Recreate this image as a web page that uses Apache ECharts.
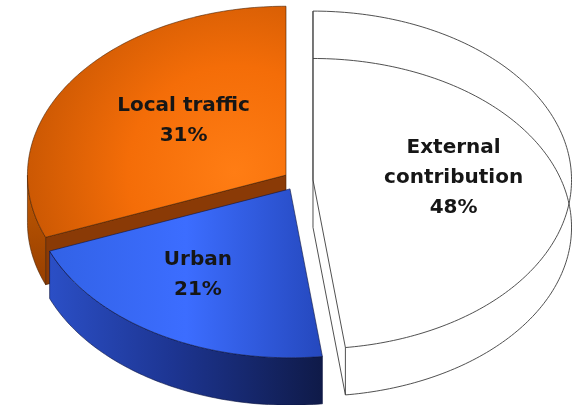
<!DOCTYPE html>
<html>
<head>
<meta charset="utf-8">
<script src="https://cdn.jsdelivr.net/npm/echarts@6/dist/echarts.min.js"></script>
<style>
  html, body { margin: 0; padding: 0; background: #ffffff; }
  #chart { width: 572px; height: 405px; }
</style>
</head>
<body>
<div id="chart"></div>
<script>
// Source shares, in drawing order starting at 12 o'clock and going clockwise
const categories = ['External contribution', 'Urban', 'Local traffic'];
const shares = [48, 21, 31];
const labelNames = ['External\ncontribution', 'Urban', 'Local traffic'];

// Look of each slice (offsets are fractions of the chart size)
const sliceLook = [
  { // External contribution: hollow wire-frame slice pulled to the right
    shift: [0.0437, -0.005], order: 1, wire: true,
    edge: '#3c3c3c', label: [0.793, 0.44]
  },
  { // Urban
    shift: [0.0035, 0.017], order: 2,
    top: () => new echarts.graphic.LinearGradient(0, 0, 1, 0, [
      { offset: 0, color: '#3262e6' },
      { offset: 0.5, color: '#3c6dff' },
      { offset: 1, color: '#2548bd' }
    ]),
    wall: () => new echarts.graphic.LinearGradient(0, 0, 1, 0, [
      { offset: 0, color: '#2b4fc6' },
      { offset: 0.45, color: '#1d3592' },
      { offset: 1, color: '#0f1a48' }
    ]),
    cut: '#1c2f80', edge: '#0b1440', label: [0.346, 0.679]
  },
  { // Local traffic
    shift: [-0.0035, -0.017], order: 0,
    top: () => new echarts.graphic.RadialGradient(0.8, 0.72, 1.15, [
      { offset: 0, color: '#ff7d14' },
      { offset: 0.4, color: '#f46d08' },
      { offset: 1, color: '#b44c00' }
    ]),
    wall: () => new echarts.graphic.LinearGradient(0, 0, 0, 1, [
      { offset: 0, color: '#c35a02' },
      { offset: 1, color: '#973f00' }
    ]),
    cut: '#8a3a06', edge: '#4a2000', label: [0.321, 0.298]
  }
];

const total = shares.reduce((a, b) => a + b, 0);
const startAngles = [];
let acc = 0;
shares.forEach(v => { startAngles.push(acc / total * 2 * Math.PI); acc += v; });

const DEG = Math.PI / 180;

function renderSlice(params, api) {
  const i = params.dataIndex;
  const look = sliceLook[i];
  const W = api.getWidth(), H = api.getHeight();
  const rx = W * 0.452, ry = H * 0.417, depth = H * 0.117;
  const cx = W * (0.5035 + look.shift[0]);
  const cy = H * (0.4494 + look.shift[1]);
  const a0 = startAngles[i];
  const a1 = a0 + api.value(0) / total * 2 * Math.PI;

  const P = (a, dy) => [cx + rx * Math.sin(a), cy - ry * Math.cos(a) + (dy || 0)];
  const arc = (s, e, dy) => {
    const n = Math.max(2, Math.ceil(Math.abs(e - s) / DEG));
    const pts = [];
    for (let k = 0; k <= n; k++) pts.push(P(s + (e - s) * k / n, dy));
    return pts;
  };
  const C = [cx, cy], Cd = [cx, cy + depth];
  const z = look.order * 10;
  const children = [];
  const poly = (points, style, z2) => children.push({
    type: 'polygon', shape: { points }, style, z2
  });
  const line = (points, style, z2) => children.push({
    type: 'polyline', shape: { points }, style, z2
  });

  const topFace = [C].concat(arc(a0, a1, 0));
  if (look.wire) {
    const wire = { fill: 'none', stroke: look.edge, lineWidth: 0.9 };
    poly([Cd].concat(arc(a0, a1, depth)), wire, z);
    poly(topFace, wire, z + 1);
    line([P(a0), P(a0, depth)], wire, z + 1);
    line([P(a1), P(a1, depth)], wire, z + 1);
  } else {
    const edge = { stroke: look.edge, lineWidth: 0.6 };
    // radial cut faces facing the viewer
    if (Math.sin(a0) < -1e-6) {
      poly([C, P(a0), P(a0, depth), Cd], Object.assign({ fill: look.cut }, edge), z);
    }
    if (Math.sin(a1) > 1e-6) {
      poly([C, P(a1), P(a1, depth), Cd], Object.assign({ fill: look.cut }, edge), z);
    }
    // front part of the rim
    const s = Math.max(a0, Math.PI / 2), e = Math.min(a1, 3 * Math.PI / 2);
    if (e > s) {
      poly(arc(s, e, 0).concat(arc(e, s, depth)),
        Object.assign({ fill: look.wall() }, edge), z + 1);
    }
    poly(topFace, Object.assign({ fill: look.top() }, edge), z + 2);
  }

  children.push({
    type: 'text',
    z2: 100,
    style: {
      x: W * look.label[0],
      y: H * look.label[1],
      text: labelNames[i] + '\n' + api.value(0) + '%',
      align: 'center',
      verticalAlign: 'middle',
      font: 'bold 20px "DejaVu Sans"',
      lineHeight: 30,
      fill: '#161616'
    }
  });

  return { type: 'group', children };
}

const chart = echarts.init(document.getElementById('chart'));
chart.setOption({
  animation: false,
  series: [{
    type: 'custom',
    coordinateSystem: 'none',
    silent: true,
    data: shares.map((v, i) => ({ name: categories[i], value: v })),
    renderItem: renderSlice
  }]
});
</script>
</body>
</html>
